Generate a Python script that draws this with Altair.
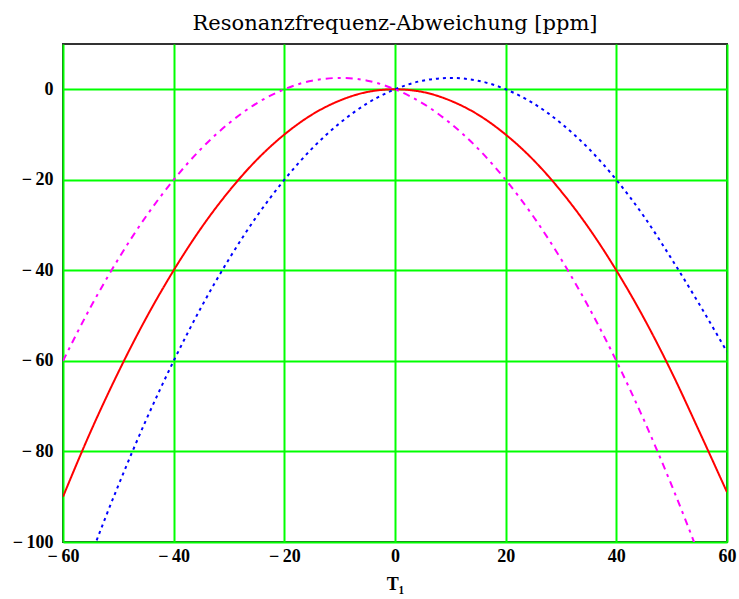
import altair as alt
import pandas as pd

temps = [-60, -55, -50, -45, -40, -35, -30, -25, -20, -15, -10, -5, 0,
         5, 10, 15, 20, 25, 30, 35, 40, 45, 50, 55, 60]
red_vals = [-90, -75.6, -62.5, -50.6, -40, -30.6, -22.5, -15.6, -10, -5.6, -2.5, -0.6, 0,
            -0.6, -2.5, -5.6, -10, -15.6, -22.5, -30.6, -40, -50.6, -62.5, -75.6, -89]
blue_vals = [-120, -103.1, -87.5, -73.1, -60, -48.1, -37.5, -28.1, -20, -13.1, -7.5, -3.1, 0,
             1.9, 2.5, 1.9, 0, -3.1, -7.5, -13.1, -20, -28.1, -37.5, -47.5, -58]
magenta_vals = [-60, -48.1, -37.5, -28.1, -20, -13.1, -7.5, -3.1, 0, 1.9, 2.5, 1.9, 0,
                -3.1, -7.5, -13.1, -20, -28.1, -37.5, -48.1, -60, -73.1, -87.5, -103.1, -120]

series_names = ["rot", "blau", "magenta"]
series_colors = ["#ff0000", "#0000ff", "#ff00ff"]

rows = []
for name, vals in zip(series_names, [red_vals, blue_vals, magenta_vals]):
    for t, v in zip(temps, vals):
        rows.append({"T": t, "f": v, "s": name})
df = pd.DataFrame(rows)

x_ticks = [-60, -40, -20, 0, 20, 40, 60]
y_ticks = [-100, -80, -60, -40, -20, 0]

label_expr = "datum.value < 0 ? '\u2212\u2009' + format(abs(datum.value), 'd') : format(datum.value, 'd')"

xenc = alt.X("T:Q", scale=alt.Scale(domain=[-60, 60], nice=False, zero=False),
             axis=alt.Axis(values=x_ticks, title="T₁", grid=True, labelExpr=label_expr,
                           labelFlush=False, labelOverlap=False))
yenc = alt.Y("f:Q", scale=alt.Scale(domain=[-100, 10], nice=False, zero=False),
             axis=alt.Axis(values=y_ticks, title=None, grid=True, labelExpr=label_expr,
                           labelFlush=False, labelOverlap=False))


def line(name, color, dash):
    enc = dict(x=xenc, y=yenc)
    return alt.Chart(df).transform_filter(alt.datum.s == name).mark_line(
        color=color, strokeWidth=2, clip=True, interpolate="monotone",
        strokeDash=dash
    ).encode(**enc)


chart = alt.layer(
    line("rot", series_colors[0], [1, 0]),
    line("blau", series_colors[1], [3, 4]),
    line("magenta", series_colors[2], [7, 5, 3, 5]),
).properties(
    width=664, height=498,
    background="white",
    title=alt.TitleParams("Resonanzfrequenz-Abweichung [ppm]", font="DejaVu Serif",
                          fontSize=21, fontWeight="normal", color="black", offset=10),
    padding={"left": 63, "top": 44, "right": 12, "bottom": 57},
    autosize=alt.AutoSizeParams(type="none"),
).configure_view(
    stroke="#333333", strokeWidth=2
).configure_axis(
    gridColor="#00ff00", gridWidth=2, gridOpacity=1,
    ticks=False, domain=False,
    labelFont="Liberation Serif", labelFontWeight="bold", labelFontSize=18, labelColor="black",
    titleFont="Liberation Serif", titleFontWeight="bold", titleFontSize=18, titleColor="black",
).configure_axisX(
    labelPadding=5, titlePadding=10
).configure_axisY(
    labelPadding=10
)

chart.save("out.html", embed_options={"renderer": "svg", "actions": False})
